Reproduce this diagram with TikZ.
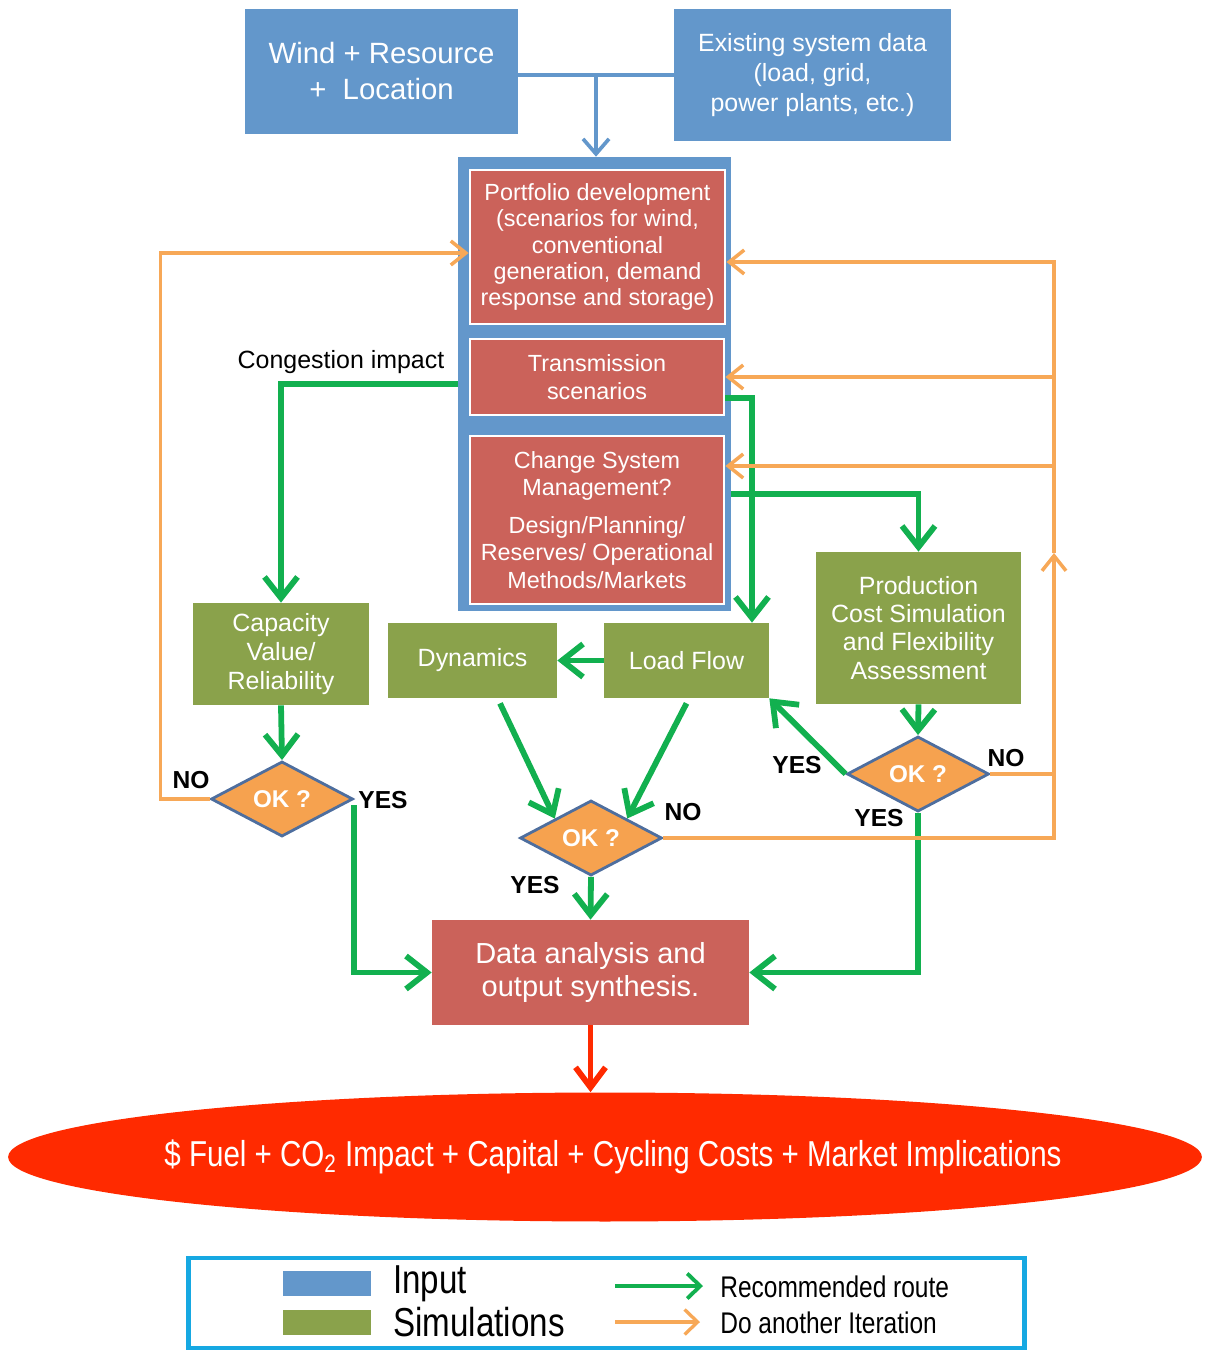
\documentclass[tikz,border=0pt]{standalone}
\usepackage{fontspec}
\setmainfont{Liberation Sans}
\newfontfamily\narrowfont[FakeStretch=0.82]{Liberation Sans}
\usetikzlibrary{shapes.geometric,arrows.meta,calc}
\definecolor{cblue}{HTML}{6397CB}
\definecolor{cred}{HTML}{CB625A}
\definecolor{csim}{HTML}{8AA24B}
\definecolor{cdfill}{HTML}{F6A24F}
\definecolor{cdline}{HTML}{4E6E9E}
\definecolor{cgreen}{HTML}{12B04F}
\definecolor{corange}{HTML}{F7A857}
\definecolor{cell}{HTML}{FF2A00}
\definecolor{cleg}{HTML}{16A8E2}
\begin{document}
\begin{tikzpicture}[x=0.02cm,y=-0.02cm,
  inbox/.style={rectangle, fill=cblue, text=white, align=center, inner sep=0pt},
  redbox/.style={rectangle, fill=cred, draw=white, line width=1.6pt, text=white, align=center, inner sep=0pt, font=\fontsize{13.3}{14.9}\selectfont},
  databox/.style={rectangle, fill=cred, text=white, align=center, inner sep=0pt, font=\fontsize{16.5}{18.5}\selectfont},
  simbox/.style={rectangle, fill=csim, text=white, align=center, inner sep=0pt, font=\fontsize{14.2}{16.7}\selectfont},
  okd/.style={diamond, fill=cdfill, draw=cdline, line width=1.6pt, text=white, inner sep=0pt, minimum width=28.4mm, minimum height=13.2mm, font=\bfseries\fontsize{13.8}{16}\selectfont},
  gar/.style={draw=cgreen, line width=3.3pt, -{Straight Barb[length=4.2mm,width=6.6mm]}},
  oar/.style={draw=corange, line width=2pt, -{Straight Barb[length=3mm,width=4.8mm]}},
  oln/.style={draw=corange, line width=2pt},
  bar/.style={draw=cblue, line width=2.1pt, -{Straight Barb[length=3mm,width=5.2mm]}},
  bln/.style={draw=cblue, line width=2.1pt},
  rar/.style={draw=cell, line width=3.3pt, -{Straight Barb[length=4mm,width=6mm]}},
  gleg/.style={draw=cgreen, line width=2.2pt, -{Straight Barb[length=2.6mm,width=5mm]}},
  oleg/.style={draw=corange, line width=1.9pt, -{Straight Barb[length=2.6mm,width=5mm]}},
  yn/.style={font=\bfseries\fontsize{14}{16}\selectfont, text=black, inner sep=0pt},
  legtxt/.style={anchor=west, inner sep=0pt, text=black}
]
\useasboundingbox (0,0) rectangle (1204,1351);

% container and input boxes
\node[fill=cblue, minimum width=54.6mm, minimum height=90.8mm, inner sep=0pt] (cont) at (594.5,384) {};
\node[inbox, minimum width=54.6mm, minimum height=25mm, font=\fontsize{16.7}{20.5}\selectfont] (wind) at (381.5,71.5) {Wind + Resource\\+~~Location};
\node[inbox, minimum width=55.4mm, minimum height=26.4mm, font=\fontsize{14.2}{17}\selectfont] (exist) at (812.5,75) {Existing system data\\(load, grid,\\power plants, etc.)};

% red boxes
\node[redbox, minimum width=51mm, minimum height=30.8mm] (port) at (597.5,247) {Portfolio development\\(scenarios for wind,\\conventional\\generation, demand\\response and storage)};
\node[redbox, minimum width=50.8mm, minimum height=15.2mm, font=\fontsize{13.3}{16}\selectfont] (trans) at (597,377) {Transmission\\scenarios};
\node[redbox, minimum width=50.8mm, minimum height=33.6mm, font=\fontsize{13.3}{15.5}\selectfont] (chg) at (597,520) {Change System\\Management?\\[6pt]Design/Planning/\\Reserves/ Operational\\Methods/Markets};

% simulation boxes
\node[simbox, minimum width=35.4mm, minimum height=20.4mm] (cap) at (281,654) {Capacity\\Value/\\Reliability};
\node[simbox, minimum width=33.8mm, minimum height=15mm] (dyn) at (472.5,660.5) {Dynamics};
\node[simbox, minimum width=33mm, minimum height=15mm] (lf) at (686.5,660.5) {Load Flow};
\node[simbox, minimum width=41mm, minimum height=30.4mm, font=\fontsize{14.2}{16}\selectfont] (prod) at (918.5,628) {Production\\Cost Simulation\\and Flexibility\\Assessment};

% decisions
\node[okd] (ld) at (282,799) {OK ?};
\node[okd] (md) at (591,838) {OK ?};
\node[okd] (rd) at (918,774) {OK ?};

% output
\node[databox, minimum width=63.4mm, minimum height=21mm] (data) at (590.5,972.5) {Data analysis and\\output synthesis.};
\node[ellipse, fill=cell, minimum width=238.8mm, minimum height=25.8mm, inner sep=0pt] (out) at (605,1157) {};
\node[text=white, inner sep=0pt, font=\narrowfont\fontsize{20.5}{24}\selectfont] (outtxt) at (613,1157) {\$ Fuel + CO\textsubscript{2} Impact + Capital + Cycling Costs + Market Implications};

% labels
\node[font=\fontsize{14.2}{16}\selectfont, inner sep=0pt] (cong) at (341,362) {Congestion impact};
\node[yn] (no1) at (191,780) {NO};
\node[yn] (yes1) at (383,800) {YES};
\node[yn] (yes2) at (535,885) {YES};
\node[yn] (no2) at (683,812) {NO};
\node[yn] (yes3) at (797,765) {YES};
\node[yn] (no3) at (1006,758) {NO};
\node[yn] (yes4) at (879,818) {YES};

% blue connectors
\coordinate (jn) at ($(wind.east)!0.5!(exist.west)$);
\draw[bln] (wind.east |- exist.west) -- (exist.west);
\draw[bar] (jn |- exist.west) -- (jn |- cont.north);

% green connectors
\draw[gar] (cont.west) -| (cap.north);
\draw[gar] ([yshift=-4.2mm]trans.east) -| ([xshift=13.1mm]lf.north);
\draw[gar] ([yshift=-22mm]cont.east) -| (prod.north);
\draw[gar] (lf.west) -- (dyn.east);
\draw[gar] (cap.south) -- (ld.north);
\draw[gar] ([xshift=5.5mm,yshift=-1mm]dyn.south) -- (md.north west);
\draw[gar] ([yshift=-1mm]lf.south) -- (md.north east);
\draw[gar] (prod.south) -- (rd.north);
\draw[gar] (rd.west) -- (lf.south east);
\draw[gar] (md.south) -- (data.north);
\draw[gar] ([yshift=-1.2mm]ld.east) |- (data.west);
\draw[gar] (rd.south) |- (data.east);

% orange connectors
\coordinate (oj) at (1054,553);
\draw[oar] (md.east) -| (oj);
\draw[oar] (oj) |- ([yshift=-3mm]port.east);
\draw[oar] (oj) |- (trans.east);
\draw[oar] (oj) |- ([yshift=10.8mm]chg.east);
\draw[oln] (rd.east) -- (rd.east -| oj);
\draw[oar] (ld.west) -- ++(-49,0) |- ([yshift=-1.2mm]port.west);

% red connector
\draw[rar] (data.south) -- (data.south |- out.north);

% legend
\node[draw=cleg, line width=2.8pt, minimum width=167.4mm, minimum height=18mm, inner sep=0pt] (leg) at (606.5,1303) {};
\node[fill=cblue, minimum width=17.6mm, minimum height=5mm, inner sep=0pt] (swb) at (327,1283.5) {};
\node[fill=csim, minimum width=17.6mm, minimum height=5mm, inner sep=0pt] (swg) at (327,1322.5) {};
\node[legtxt, font=\narrowfont\fontsize{23}{26}\selectfont] (lin) at (393,1284) {Input};
\node[legtxt, font=\narrowfont\fontsize{23}{26}\selectfont] (lsim) at (393,1322) {Simulations};
\coordinate (ga1) at (615,1286);
\coordinate (ga2) at (703,1286);
\coordinate (oa1) at (615,1322);
\coordinate (oa2) at (700,1322);
\draw[gleg] (ga1) -- (ga2);
\draw[oleg] (oa1) -- (oa2);
\node[legtxt, font=\narrowfont\fontsize{17}{20}\selectfont] (lrec) at (720,1287) {Recommended route};
\node[legtxt, font=\narrowfont\fontsize{17}{20}\selectfont] (ldo) at (720,1323) {Do another Iteration};
\end{tikzpicture}
\end{document}
